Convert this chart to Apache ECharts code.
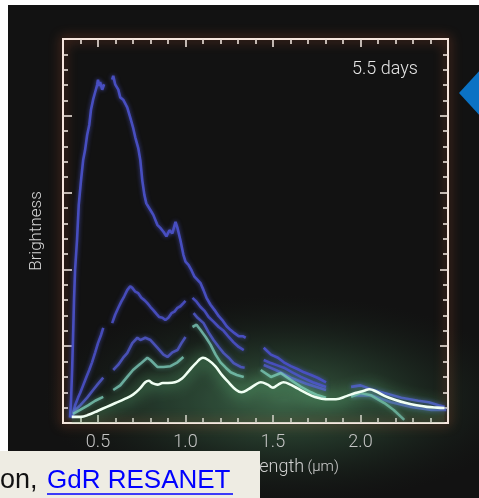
<!DOCTYPE html>
<html><head><meta charset="utf-8">
<script src="https://cdn.jsdelivr.net/npm/echarts@6/dist/echarts.min.js"></script>
<style>html,body{margin:0;padding:0;background:#fff}#c{width:479px;height:498px}</style>
</head><body><div id="c"></div>
<script>
// ---- tick values / labels ----
const xMajorTicks = [0.5, 1.0, 1.5, 2.0];
const xTickLabels = ['0.5', '1.0', '1.5', '2.0'];
const xMinorTicks = [0.4,0.6,0.7,0.8,0.9,1.1,1.2,1.3,1.4,1.6,1.7,1.8,1.9,2.1,2.2,2.3,2.4];
const yMajorTicks = [1, 2, 3, 4];
const yMinorTicks = [0.2,0.4,0.6,0.8,1.2,1.4,1.6,1.8,2.2,2.4,2.6,2.8,3.2,3.4,3.6,3.8,4.2,4.4,4.6,4.8];

// ---- spectra: [wavelength (µm), brightness]; null = gap ----
const spectrumA = [
 [0.34,0.07],[0.346,0.30],[0.352,0.69],[0.357,1.08],[0.363,1.60],[0.369,1.99],[0.38,2.38],[0.39,2.84],[0.403,3.16],[0.415,3.42],
 [0.426,3.55],[0.438,3.75],[0.45,3.88],[0.46,4.08],[0.472,4.21],[0.484,4.31],[0.495,4.40],[0.50,4.47],[0.507,4.39],[0.512,4.44],
 [0.524,4.34],[0.535,4.41], null,
 [0.581,4.47],[0.587,4.52],[0.598,4.41],[0.616,4.34],[0.627,4.24],[0.644,4.21],[0.667,4.11],[0.684,3.98],[0.70,3.85],[0.713,3.72],
 [0.73,3.58],[0.742,3.42],[0.753,3.16],[0.765,2.97],[0.776,2.86],[0.80,2.77],[0.816,2.71],[0.839,2.58],[0.856,2.54],[0.874,2.49],
 [0.891,2.43],[0.908,2.51],[0.925,2.47],[0.943,2.62],[0.954,2.54],[0.971,2.38],[0.988,2.19],[1.0,2.10],[1.017,2.06],[1.034,1.99],
 [1.05,1.91],[1.07,1.86],[1.086,1.82],[1.103,1.73],[1.12,1.63],[1.143,1.54],[1.166,1.47],[1.19,1.39],[1.21,1.34],[1.235,1.26],
 [1.258,1.21],[1.28,1.17],[1.304,1.13],[1.327,1.13],[1.344,1.11], null,
 [1.447,0.98],[1.488,0.89],[1.528,0.85],[1.562,0.79],[1.602,0.74],[1.642,0.70],[1.677,0.66],[1.717,0.625],[1.757,0.586],[1.803,0.53]
];
const spectrumB = [
 [0.352,0.065],[0.369,0.23],[0.386,0.33],[0.398,0.39],[0.415,0.49],[0.432,0.59],[0.45,0.69],[0.466,0.79],[0.484,0.92],[0.50,1.04],
 [0.518,1.15],[0.53,1.24], null,
 [0.581,1.30],[0.598,1.41],[0.616,1.50],[0.633,1.58],[0.65,1.65],[0.667,1.73],[0.684,1.78],[0.696,1.76],[0.713,1.71],[0.73,1.69],
 [0.748,1.63],[0.765,1.60],[0.782,1.56],[0.80,1.51],[0.816,1.47],[0.834,1.42],[0.85,1.38],[0.868,1.37],[0.885,1.34],[0.902,1.37],
 [0.92,1.43],[0.937,1.45],[0.954,1.50],[0.971,1.52],[0.988,1.56],[1.0,1.59], null,
 [1.04,1.63],[1.063,1.58],[1.086,1.51],[1.109,1.46],[1.132,1.38],[1.16,1.32],[1.19,1.25],[1.218,1.20],[1.247,1.12],[1.275,1.05],
 [1.304,0.99],[1.333,0.95], null,
 [1.447,0.82],[1.488,0.78],[1.525,0.75],[1.562,0.72],[1.61,0.66],[1.66,0.60],[1.728,0.53],[1.803,0.47], null,
 [1.946,0.47],[2.0,0.49],[2.06,0.44],[2.136,0.39],[2.233,0.33],[2.33,0.29],[2.39,0.27],[2.446,0.23],[2.48,0.21]
];
const spectrumC = [
 [0.357,0.14],[0.398,0.23],[0.438,0.33],[0.472,0.43],[0.50,0.51],[0.53,0.59], null,
 [0.587,0.69],[0.616,0.76],[0.644,0.85],[0.667,0.91],[0.696,1.04],[0.725,1.11],[0.742,1.08],[0.77,1.11],[0.80,1.08],[0.839,0.98],
 [0.874,0.89],[0.897,0.86],[0.925,0.92],[0.954,0.95],[0.977,1.04],[1.0,1.12], null,
 [1.046,1.43],[1.069,1.37],[1.103,1.30],[1.132,1.18],[1.16,1.08],[1.19,0.99],[1.218,0.91],[1.247,0.85],[1.275,0.78],[1.315,0.73],
 [1.338,0.72], null,
 [1.447,0.755],[1.516,0.69],[1.602,0.59],[1.69,0.51],[1.803,0.43], null,
 [1.946,0.36],[2.06,0.36],[2.176,0.27],[2.29,0.21],[2.405,0.17],[2.49,0.17]
];
const spectrumD = [
 [0.357,0.12],[0.398,0.17],[0.443,0.23],[0.484,0.29],[0.53,0.34], null,
 [0.587,0.43],[0.627,0.49],[0.667,0.60],[0.70,0.69],[0.742,0.77],[0.782,0.85],[0.80,0.82],[0.839,0.73],[0.874,0.73],[0.914,0.74],
 [0.954,0.79],[0.988,0.86], null,
 [1.04,1.25],[1.063,1.28],[1.086,1.21],[1.115,1.12],[1.143,1.02],[1.172,0.89],[1.20,0.79],[1.23,0.72],[1.258,0.66],[1.293,0.625],
 [1.333,0.60], null,
 [1.43,0.69],[1.488,0.60],[1.545,0.65],[1.602,0.56],[1.66,0.47],[1.717,0.40],[1.757,0.36],[1.803,0.33], null,
 [1.946,0.34],[2.0,0.39],[2.06,0.36],[2.136,0.26],[2.19,0.17],[2.25,0.04]
];
const modelE = [
 [0.35,0.08],[0.40,0.08],[0.45,0.11],[0.50,0.16],[0.55,0.21],[0.60,0.26],[0.65,0.31],[0.70,0.37],[0.74,0.45],[0.77,0.53],
 [0.79,0.55],[0.81,0.52],[0.84,0.50],[0.87,0.52],[0.90,0.52],[0.94,0.53],[0.98,0.58],[1.02,0.68],[1.06,0.78],[1.10,0.85],
 [1.13,0.82],[1.17,0.74],[1.21,0.62],[1.25,0.52],[1.29,0.43],[1.32,0.40],[1.36,0.44],[1.40,0.50],[1.43,0.53],[1.47,0.50],
 [1.50,0.46],[1.53,0.50],[1.56,0.53],[1.60,0.50],[1.64,0.45],[1.69,0.39],[1.74,0.34],[1.80,0.31],[1.86,0.31],[1.92,0.35],
 [1.97,0.39],[2.02,0.42],[2.05,0.44],[2.09,0.41],[2.14,0.35],[2.20,0.30],[2.26,0.26],[2.32,0.23],[2.38,0.21],[2.44,0.20],[2.48,0.195]
];

const toData = arr => arr.map(p => p === null ? [null, null] : p);

const tickColor = '#ece1da';
const font = 'Roboto, "Liberation Sans", sans-serif';
function xAx(pos, ticks, len, labels) {
  return {
    type: 'value', min: 0.3, max: 2.5, position: pos,
    axisLine: { show: false, onZero: false }, splitLine: { show: false },
    axisTick: { show: true, inside: true, length: len, customValues: ticks, lineStyle: { color: tickColor, width: 1.6 } },
    axisLabel: labels ? { show: true, customValues: ticks, formatter: v => xTickLabels[xMajorTicks.indexOf(v)] ?? v.toFixed(1),
      color: '#c4c4c4', fontSize: 18, fontFamily: font, fontWeight: 300, margin: 10 } : { show: false }
  };
}
function yAx(pos, ticks, len, name) {
  const a = {
    type: 'value', min: 0, max: 5, position: pos,
    axisLine: { show: false, onZero: false }, splitLine: { show: false },
    axisTick: { show: true, inside: true, length: len, customValues: ticks, lineStyle: { color: tickColor, width: 1.6 } },
    axisLabel: { show: false }
  };
  if (name) {
    a.name = name; a.nameLocation = 'middle'; a.nameGap = 18;
    a.nameTextStyle = { color: '#d6d6d6', fontSize: 17, fontFamily: font, fontWeight: 300 };
  }
  return a;
}
const blueGlow = { shadowColor: 'rgba(85,95,230,0.7)', shadowBlur: 4 };

const chart = echarts.init(document.getElementById('c'), null, { renderer: 'canvas' });
chart.setOption({
  backgroundColor: '#ffffff',
  animation: false,
  grid: {
    left: 63, top: 39, right: 31, bottom: 75, show: true,
    borderColor: '#f6e6de', borderWidth: 2, backgroundColor: 'transparent',
    shadowColor: 'rgba(205,95,55,0.9)', shadowBlur: 12
  },
  xAxis: [
    xAx('bottom', xMinorTicks, 5, false),
    xAx('bottom', xMajorTicks, 8, true),
    xAx('top', xMinorTicks, 5, false),
    xAx('top', xMajorTicks, 8, false)
  ],
  yAxis: [
    yAx('left', yMinorTicks, 5, null),
    yAx('left', yMajorTicks, 9, 'Brightness'),
    yAx('right', yMinorTicks, 5, null),
    yAx('right', yMajorTicks, 8, null)
  ],
  graphic: [
    { type: 'rect', z: -20, silent: true, shape: { x: 8, y: 5, width: 471, height: 493 }, style: { fill: '#121212' } },
    { type: 'rect', z: -10, silent: true, x: 285, y: 400, scaleX: 2.2, scaleY: 0.95,
      shape: { x: -110, y: -110, width: 220, height: 220 },
      style: { fill: { type: 'radial', x: 0.5, y: 0.5, r: 0.5,
        colorStops: [ { offset: 0, color: 'rgba(100,175,120,0.5)' }, { offset: 0.5, color: 'rgba(65,120,82,0.26)' }, { offset: 1, color: 'rgba(30,50,35,0)' } ] } } },
    { type: 'text', z: 50, x: 352, y: 69, style: { text: '5.5 days', fill: '#e4e4e4', fontSize: 18, fontFamily: font, fontWeight: 300, verticalAlign: 'middle' } },
    { type: 'text', z: 50, x: 212, y: 467, style: { text: '{a|Wavelength} {b|(µm)}', verticalAlign: 'middle',
      rich: { a: { fill: '#d0d0d0', fontSize: 18, fontFamily: font, fontWeight: 300 }, b: { fill: '#d0d0d0', fontSize: 15, fontFamily: font, fontWeight: 300 } } } },
    { type: 'polygon', z: 50, shape: { points: [[459, 93], [481, 69], [481, 117]] }, style: { fill: '#0b72c4' } },
    { type: 'rect', z: 100, shape: { x: 0, y: 451, width: 260, height: 47 }, style: { fill: '#eeece3' } },
    { type: 'text', z: 101, x: 0, y: 481, style: { text: 'on,', fill: '#111111', fontSize: 27, fontFamily: '"Liberation Sans", sans-serif', verticalAlign: 'middle' } },
    { type: 'text', z: 101, x: 47, y: 481, style: { text: 'GdR RESANET', fill: '#0000ff', fontSize: 26, fontFamily: '"Liberation Sans", sans-serif', verticalAlign: 'middle' } },
    { type: 'line', z: 101, shape: { x1: 47, y1: 494, x2: 233, y2: 494 }, style: { stroke: '#0000ff', lineWidth: 1.5 } }
  ],
  series: [
    { type: 'line', data: toData(spectrumA), showSymbol: false, connectNulls: false, z: 3,
      lineStyle: Object.assign({ color: '#4a50c6', width: 2.6, opacity: 0.95 }, blueGlow) },
    { type: 'line', data: toData(spectrumB), showSymbol: false, connectNulls: false, z: 3,
      lineStyle: Object.assign({ color: '#4a50c6', width: 2.6, opacity: 0.9 }, blueGlow) },
    { type: 'line', data: toData(spectrumC), showSymbol: false, connectNulls: false, z: 3,
      lineStyle: Object.assign({ color: '#5058c8', width: 2.6, opacity: 0.85 }, blueGlow) },
    { type: 'line', data: toData(spectrumD), showSymbol: false, connectNulls: false, z: 4,
      lineStyle: { color: '#7ac6b6', width: 2.6, opacity: 0.8, shadowColor: 'rgba(120,210,190,0.6)', shadowBlur: 4 } },
    { type: 'line', data: modelE, showSymbol: false, smooth: 0.4, z: 5,
      lineStyle: { color: '#f0fff3', width: 2.6, shadowColor: 'rgba(130,255,165,1)', shadowBlur: 16 },
      areaStyle: { color: 'rgba(70,125,88,0.25)' } }
  ]
});
</script>
</body></html>
